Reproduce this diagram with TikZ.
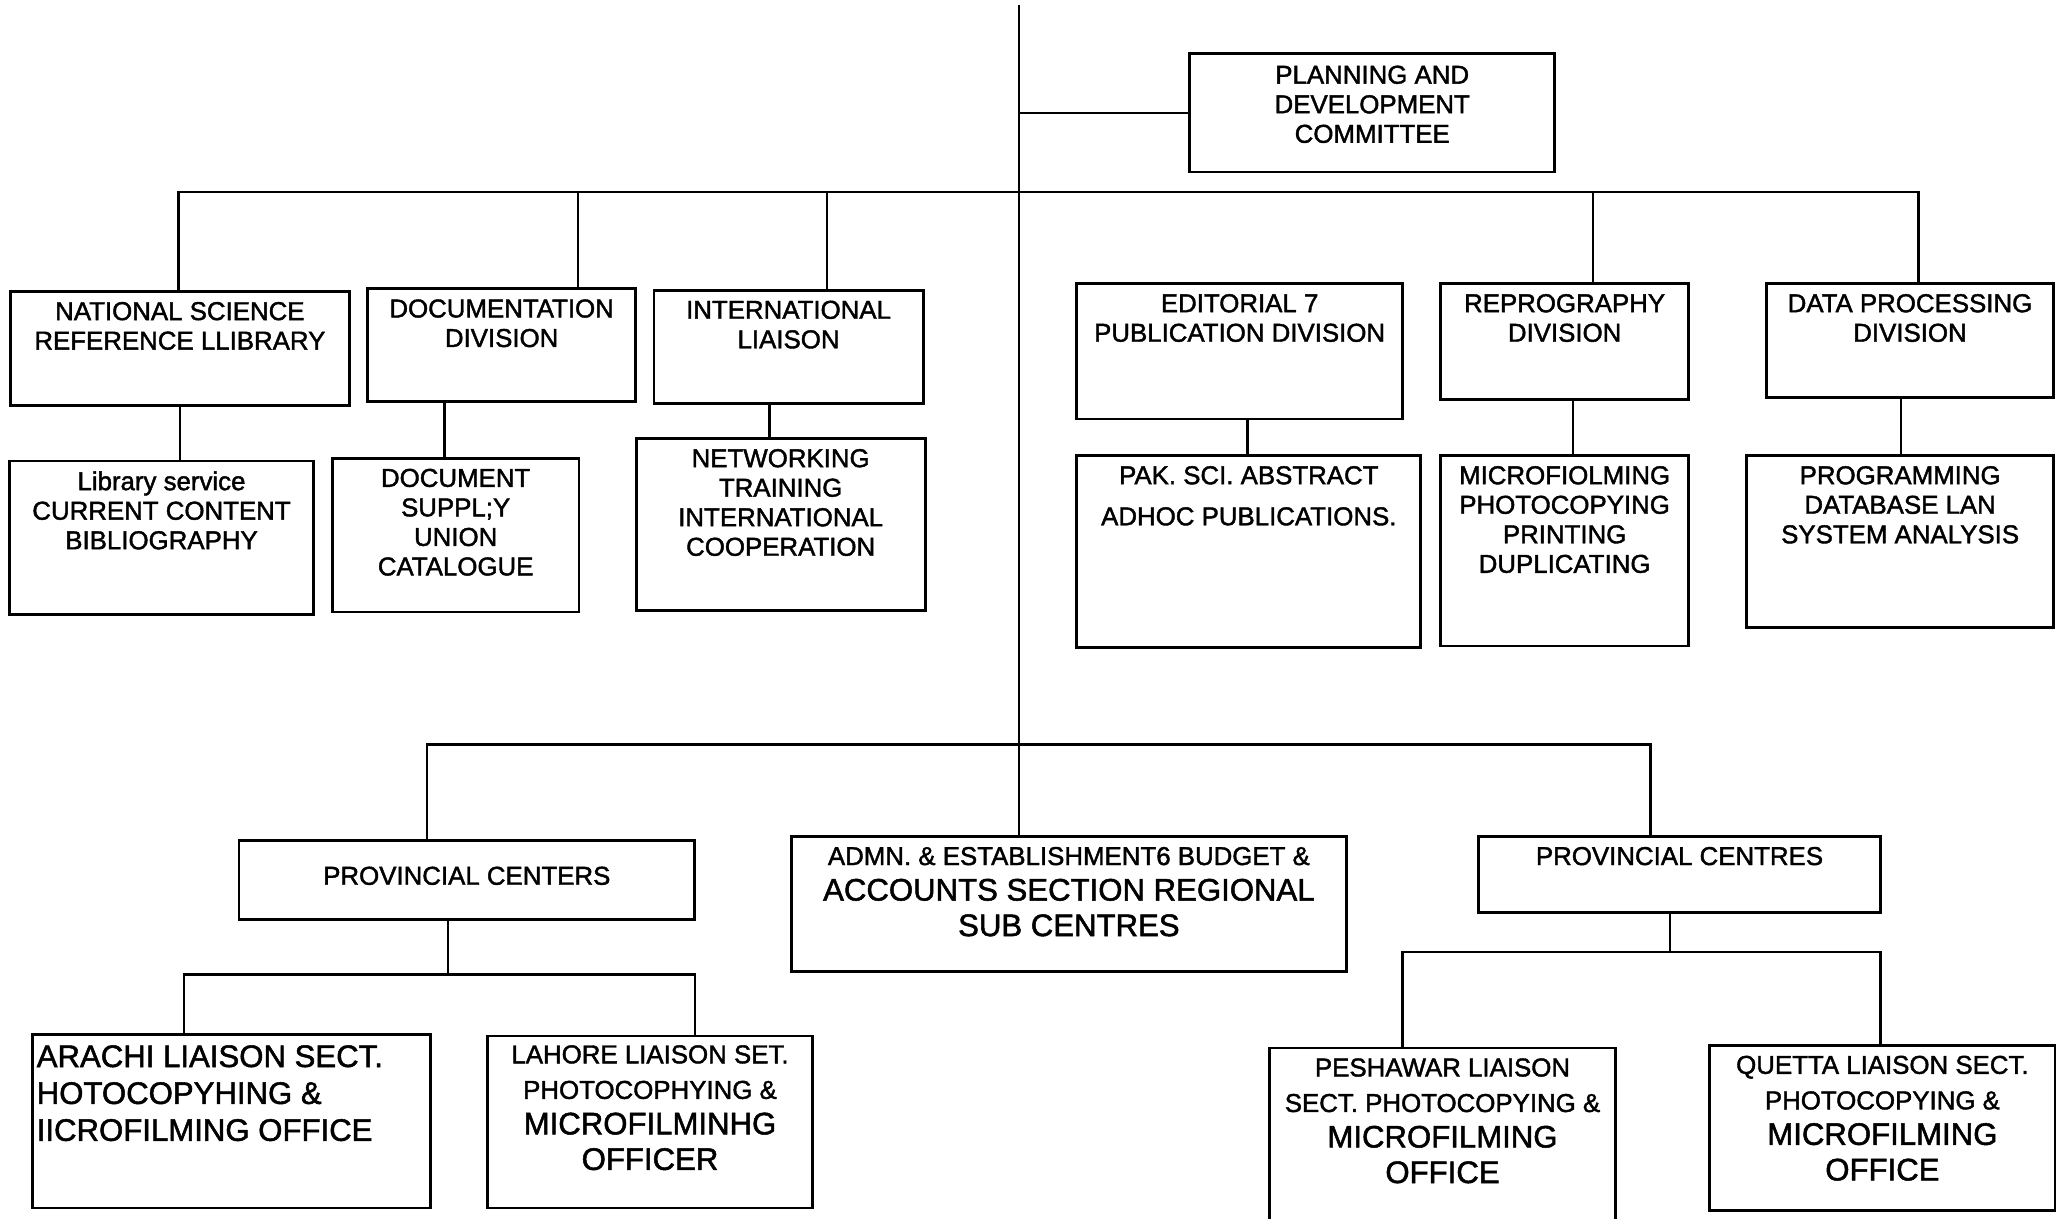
\documentclass[tikz,border=0pt]{standalone}
\usepackage{fontspec}
\setmainfont{Liberation Sans}[FakeBold=1.6]

\newlength{\gu}
\setlength{\gu}{0.02cm}
\newcommand{\regfont}{\fontsize{11.2}{12.8}\selectfont}
\newcommand{\lowfont}{\fontsize{11.2}{15.4}\selectfont}
\newcommand{\bigfont}{\fontsize{13.5}{15.4}\selectfont}
\newcommand{\orgcell}[4][8]{\parbox[c][#3\gu][t]{#2\gu}{\centering\regfont\vspace*{#1\gu}#4\par}}

\begin{document}
\begin{tikzpicture}[x=0.02cm, y=-0.02cm,
  unit/.style={draw, line width=1.2pt, inner sep=0pt, outer sep=0pt},
  link/.style={draw=black, line width=1pt}]
  \useasboundingbox (0,0) rectangle (1568,928);
  \node[unit] (plan) at (1045,86) {\orgcell[9]{278}{90}{PLANNING AND\\ DEVELOPMENT\\ COMMITTEE}};
  \node[unit] (nsrl) at (137,265.5) {\orgcell{258}{87}{NATIONAL SCIENCE\\ REFERENCE LLIBRARY}};
  \node[unit] (docdiv) at (382,263) {\orgcell{204}{86}{DOCUMENTATION\\ DIVISION}};
  \node[unit] (intl) at (600.5,264) {\orgcell{205}{86}{INTERNATIONAL\\ LIAISON}};
  \node[unit] (edit) at (944,267.5) {\orgcell{248}{103}{EDITORIAL 7\\ PUBLICATION DIVISION}};
  \node[unit] (repro) at (1191.5,260) {\orgcell{189}{88}{REPROGRAPHY\\ DIVISION}};
  \node[unit] (dproc) at (1454.5,259.5) {\orgcell{219}{87}{DATA PROCESSING\\ DIVISION}};
  \node[unit] (libsv) at (123,409.5) {\orgcell{232}{117}{Library service\\ CURRENT CONTENT\\ BIBLIOGRAPHY}};
  \node[unit] (docsup) at (347,407.5) {\orgcell{188}{117}{DOCUMENT\\ SUPPL;Y\\ UNION\\ CATALOGUE}};
  \node[unit] (netw) at (594.5,399.5) {\orgcell{220}{131}{NETWORKING\\ TRAINING\\ INTERNATIONAL\\ COOPERATION}};
  \node[unit] (pak) at (951,420) {\orgcell{262}{146}{PAK. SCI. ABSTRACT\\[5pt] ADHOC PUBLICATIONS.}};
  \node[unit] (micro) at (1191.5,419.5) {\orgcell{189}{145}{MICROFIOLMING\\ PHOTOCOPYING\\ PRINTING\\ DUPLICATING}};
  \node[unit] (prog) at (1447,412.5) {\orgcell{234}{131}{PROGRAMMING\\ DATABASE LAN\\ SYSTEM ANALYSIS}};
  \node[unit] (prov1) at (355.5,670) {\orgcell[20]{347}{60}{PROVINCIAL CENTERS}};
  \node[unit] (admn) at (814,688.5) {\orgcell{423}{103}{\lowfont ADMN. \& ESTABLISHMENT6 BUDGET \&\\ \bigfont ACCOUNTS SECTION REGIONAL\\ SUB CENTRES}};
  \node[unit] (prov2) at (1279,666) {\orgcell{306}{58}{PROVINCIAL CENTRES}};
  \node[unit] (kar) at (176.5,854) {\orgcell{303}{132}{\raggedright\leftskip=3\gu\fontsize{13.5}{16}\selectfont ARACHI LIAISON SECT.\\ HOTOCOPYHING \&\\ IICROFILMING OFFICE}};
  \node[unit] (lah) at (495,854.5) {\orgcell[7]{248}{131}{\lowfont LAHORE LIAISON SET.\\ PHOTOCOPHYING \&\\ \bigfont MICROFILMINHG\\ OFFICER}};
  \node[unit] (pesh) at (1098.5,869) {\orgcell{263}{142}{\lowfont PESHAWAR LIAISON\\ SECT. PHOTOCOPYING \&\\ \bigfont MICROFILMING\\ OFFICE}};
  \node[unit] (quet) at (1433.5,859) {\orgcell{263}{126}{\lowfont QUETTA LIAISON SECT.\\ PHOTOCOPYING \&\\ \bigfont MICROFILMING\\ OFFICE}};
  \coordinate (top) at (776,4);
  \coordinate (hubA) at (776,146);
  \coordinate (hubB) at (776,567);
  \coordinate (hubC) at (341,742);
  \coordinate (hubD) at (1272,725);
  \draw[link] (top) -- (top |- admn.north);
  \draw[link] (plan.west) -- (plan.west -| top);
  \foreach \n/\dx in {nsrl/-1, docdiv/58, intl/29.5, repro/21.5, dproc/6.5}
    {\draw[link] ([xshift=\dx\gu]\n.north) |- (hubA);}
  \foreach \src/\dst/\dx in {nsrl/libsv/14, docdiv/docsup/-8.5, intl/netw/-8.5, edit/pak/-1, repro/micro/6.5, dproc/prog/0.5}
    {\draw[link] ([xshift=\dx\gu]\dst.north) |- (\src.south);}
  \draw[link] ([xshift=-30.5\gu]prov1.north) |- (hubB);
  \draw[link] ([xshift=-22\gu]prov2.north) |- (hubB);
  \draw[link] ([xshift=-14.5\gu]prov1.south) -- (hubC);
  \draw[link] ([xshift=-36.5\gu]kar.north) |- (hubC);
  \draw[link] ([xshift=34\gu]lah.north) |- (hubC);
  \draw[link] ([xshift=-7\gu]prov2.south) -- (hubD);
  \draw[link] ([xshift=-30.5\gu]pesh.north) |- (hubD);
  \draw[link] ([xshift=-1.5\gu]quet.north) |- (hubD);
\end{tikzpicture}
\end{document}
